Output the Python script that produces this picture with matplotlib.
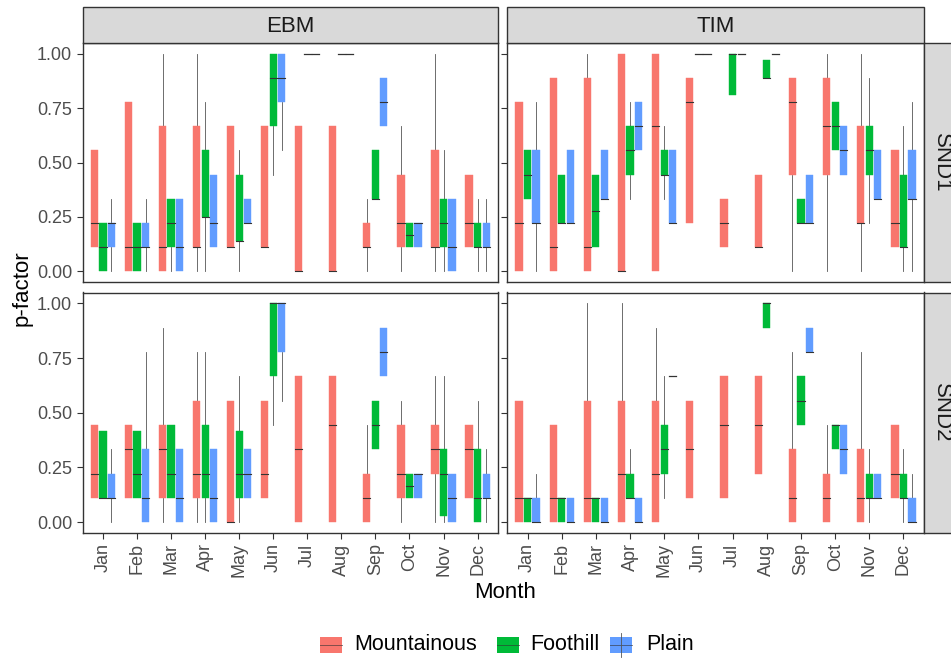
import numpy as np
import matplotlib
matplotlib.use("Agg")
import matplotlib.pyplot as plt
from matplotlib.patches import Rectangle

plt.rcParams['font.family'] = ['Liberation Sans', 'DejaVu Sans']

MONTHS = ["Jan", "Feb", "Mar", "Apr", "May", "Jun", "Jul", "Aug", "Sep", "Oct", "Nov", "Dec"]
GROUPS = ["Mountainous", "Foothill", "Plain"]
COLUMNS = ["EBM", "TIM"]
ROWS = ["SND1", "SND2"]
Y_TICKS = [0.0, 0.25, 0.5, 0.75, 1.0]

# each box: (lower whisker, q1, median, q3, upper whisker); None = no box
EBM_SND1_MOUNT = [(0.111, 0.111, 0.222, 0.556, 0.556), (0, 0, 0.111, 0.778, 0.778), (0, 0, 0.111, 0.667, 1.0),
                  (0, 0.111, 0.111, 0.667, 1.0), (0.111, 0.111, 0.111, 0.667, 0.667), (0.111, 0.111, 0.111, 0.667, 0.667),
                  (0, 0, 0, 0.667, 0.667), (0, 0, 0, 0.667, 0.667), (0, 0.111, 0.111, 0.222, 0.333),
                  (0, 0.111, 0.222, 0.444, 0.667), (0, 0.111, 0.111, 0.556, 1.0), (0.111, 0.111, 0.222, 0.444, 0.444)]
EBM_SND1_FOOT = [(0, 0, 0.111, 0.222, 0.222), (0, 0, 0.111, 0.222, 0.222), (0, 0.111, 0.222, 0.333, 0.333),
                 (0, 0.25, 0.25, 0.556, 0.778), (0, 0.14, 0.14, 0.444, 0.556), (0.444, 0.667, 0.889, 1.0, 1.0),
                 (1, 1, 1, 1, 1), (1, 1, 1, 1, 1), (0.333, 0.333, 0.333, 0.556, 0.556),
                 (0.111, 0.111, 0.167, 0.222, 0.222), (0, 0.111, 0.222, 0.333, 0.556), (0, 0.111, 0.111, 0.222, 0.333)]
EBM_SND1_PLAIN = [(0, 0.111, 0.222, 0.222, 0.333), (0, 0.111, 0.111, 0.222, 0.333), (0, 0, 0.111, 0.333, 0.333),
                  (0.111, 0.111, 0.222, 0.444, 0.444), (0.222, 0.222, 0.222, 0.333, 0.333), (0.556, 0.778, 0.889, 1.0, 1.0),
                  (1, 1, 1, 1, 1), (1, 1, 1, 1, 1), (0.667, 0.667, 0.778, 0.889, 0.889),
                  (0.111, 0.111, 0.222, 0.222, 0.222), (0, 0, 0.111, 0.333, 0.333), (0, 0.111, 0.111, 0.222, 0.333)]

TIM_SND1_MOUNT = [(0, 0, 0.222, 0.778, 0.778), (0, 0, 0.111, 0.889, 0.889), (0, 0, 0.111, 0.889, 1.0),
                  (0, 0, 0, 1.0, 1.0), (0, 0, 0.667, 1.0, 1.0), (0.222, 0.222, 0.778, 0.889, 0.889),
                  (0.111, 0.111, 0.222, 0.333, 0.333), (0.111, 0.111, 0.111, 0.444, 0.444), (0, 0.444, 0.778, 0.889, 0.889),
                  (0, 0.444, 0.667, 0.889, 1.0), (0, 0.222, 0.222, 0.667, 1.0), (0.111, 0.111, 0.222, 0.556, 0.556)]
TIM_SND1_FOOT = [(0.333, 0.333, 0.444, 0.556, 0.556), (0.222, 0.222, 0.222, 0.444, 0.444), (0.111, 0.111, 0.278, 0.444, 0.444),
                 (0.333, 0.444, 0.556, 0.667, 0.778), (0.333, 0.444, 0.444, 0.556, 0.667), (1, 1, 1, 1, 1),
                 (0.81, 0.81, 1.0, 1.0, 1.0), (0.889, 0.889, 0.889, 0.972, 0.972), (0.222, 0.222, 0.222, 0.333, 0.333),
                 (0.556, 0.556, 0.667, 0.778, 0.778), (0.222, 0.444, 0.556, 0.667, 0.889), (0, 0.111, 0.111, 0.444, 0.667)]
TIM_SND1_PLAIN = [(0, 0.222, 0.222, 0.556, 0.778), (0.222, 0.222, 0.222, 0.556, 0.556), (0.333, 0.333, 0.333, 0.556, 0.556),
                  (0.556, 0.556, 0.667, 0.778, 0.778), (0.222, 0.222, 0.222, 0.556, 0.556), (1, 1, 1, 1, 1),
                  (1, 1, 1, 1, 1), (1, 1, 1, 1, 1), (0.222, 0.222, 0.222, 0.444, 0.444),
                  (0.444, 0.444, 0.556, 0.667, 0.667), (0.333, 0.333, 0.333, 0.556, 0.556), (0, 0.333, 0.333, 0.556, 0.778)]

EBM_SND2_MOUNT = [(0.111, 0.111, 0.222, 0.444, 0.444), (0.111, 0.111, 0.333, 0.444, 0.444), (0, 0.111, 0.333, 0.444, 0.889),
                  (0, 0.111, 0.222, 0.556, 0.778), (0, 0, 0, 0.556, 0.556), (0.111, 0.111, 0.222, 0.556, 0.556),
                  (0, 0, 0.333, 0.667, 0.667), (0, 0, 0.444, 0.667, 0.667), (0, 0, 0.111, 0.222, 0.444),
                  (0, 0.111, 0.222, 0.444, 0.556), (0, 0.222, 0.333, 0.444, 0.667), (0.111, 0.111, 0.333, 0.444, 0.444)]
EBM_SND2_FOOT = [(0.111, 0.111, 0.111, 0.417, 0.417), (0.111, 0.111, 0.222, 0.417, 0.417), (0.111, 0.111, 0.222, 0.444, 0.444),
                 (0, 0.111, 0.222, 0.444, 0.778), (0, 0.111, 0.222, 0.417, 0.667), (0.444, 0.667, 1.0, 1.0, 1.0),
                 None, None, (0.333, 0.333, 0.444, 0.556, 0.556),
                 (0.111, 0.111, 0.167, 0.222, 0.222), (0, 0.03, 0.222, 0.333, 0.667), (0, 0, 0.111, 0.333, 0.556)]
EBM_SND2_PLAIN = [(0, 0.111, 0.111, 0.222, 0.333), (0, 0, 0.111, 0.333, 0.778), (0, 0, 0.111, 0.333, 0.333),
                  (0, 0, 0.111, 0.333, 0.333), (0.111, 0.111, 0.222, 0.333, 0.333), (0.556, 0.778, 1.0, 1.0, 1.0),
                  None, None, (0.667, 0.667, 0.778, 0.889, 0.889),
                  (0.111, 0.111, 0.222, 0.222, 0.222), (0, 0, 0.111, 0.222, 0.222), (0, 0.111, 0.111, 0.222, 0.333)]

TIM_SND2_MOUNT = [(0, 0, 0.111, 0.556, 0.556), (0, 0, 0.111, 0.444, 0.444), (0, 0, 0.111, 0.556, 1.0),
                  (0, 0, 0.222, 0.556, 1.0), (0, 0, 0.222, 0.556, 0.889), (0.111, 0.111, 0.333, 0.556, 0.556),
                  (0.111, 0.111, 0.444, 0.667, 0.667), (0.222, 0.222, 0.444, 0.667, 0.667), (0, 0, 0.111, 0.333, 0.778),
                  (0, 0, 0.111, 0.222, 0.444), (0, 0, 0.111, 0.333, 0.778), (0.111, 0.111, 0.222, 0.444, 0.444)]
TIM_SND2_FOOT = [(0, 0, 0.111, 0.111, 0.111), (0, 0, 0.111, 0.111, 0.111), (0, 0, 0.111, 0.111, 0.111),
                 (0.111, 0.111, 0.111, 0.222, 0.333), (0.111, 0.222, 0.333, 0.444, 0.667), None,
                 None, (0.889, 0.889, 1.0, 1.0, 1.0), (0.444, 0.444, 0.556, 0.667, 0.667),
                 (0.333, 0.333, 0.444, 0.444, 0.444), (0, 0.111, 0.111, 0.222, 0.333), (0, 0.111, 0.111, 0.222, 0.333)]
TIM_SND2_PLAIN = [(0, 0, 0, 0.111, 0.222), (0, 0, 0, 0.111, 0.111), (0, 0, 0, 0.111, 0.111),
                  (0, 0, 0, 0.111, 0.111), (0.667, 0.667, 0.667, 0.667, 0.667), None,
                  None, None, (0.778, 0.778, 0.778, 0.889, 0.889),
                  (0.222, 0.222, 0.333, 0.444, 0.444), (0.111, 0.111, 0.111, 0.222, 0.222), (0, 0, 0, 0.111, 0.222)]

PANELS = {
    ("SND1", "EBM"): [EBM_SND1_MOUNT, EBM_SND1_FOOT, EBM_SND1_PLAIN],
    ("SND1", "TIM"): [TIM_SND1_MOUNT, TIM_SND1_FOOT, TIM_SND1_PLAIN],
    ("SND2", "EBM"): [EBM_SND2_MOUNT, EBM_SND2_FOOT, EBM_SND2_PLAIN],
    ("SND2", "TIM"): [TIM_SND2_MOUNT, TIM_SND2_FOOT, TIM_SND2_PLAIN],
}

COLORS = ["#F8766D", "#00BA38", "#619CFF"]
DARK = "#333333"
TXT = "#4D4D4D"

W, H = 951, 658
fig = plt.figure(figsize=(W / 100, H / 100), dpi=100)

col_x = [(82.5, 498.0), (507.0, 924.0)]
row_y = [(43.0, 282.0), (292.5, 533.0)]
strip_top = (7.0, 43.0)
strip_right = (924.0, 960.0)

def fr(x0, x1, y0, y1):
    return [x0 / W, 1 - y1 / H, (x1 - x0) / W, (y1 - y0) / H]

OFFS = [-0.25, 0.0, 0.25]
BW = 0.21

for ri, rname in enumerate(ROWS):
    for ci, cname in enumerate(COLUMNS):
        x0, x1 = col_x[ci]
        y0, y1 = row_y[ri]
        ax = fig.add_axes(fr(x0, x1, y0, y1))
        ax.set_xlim(0.4, 12.6)
        ax.set_ylim(-0.05, 1.05)
        for gi, series in enumerate(PANELS[(rname, cname)]):
            for mi, box in enumerate(series):
                if box is None:
                    continue
                lo, q1, med, q3, hi = box
                xc = mi + 1 + OFFS[gi]
                if hi > q3:
                    ax.plot([xc, xc], [q3, hi], color="#555555", lw=0.6, zorder=1)
                if lo < q1:
                    ax.plot([xc, xc], [lo, q1], color="#555555", lw=0.6, zorder=1)
                if q3 - q1 > 1e-9:
                    ax.add_patch(Rectangle((xc - BW / 2, q1), BW, q3 - q1, facecolor=COLORS[gi],
                                           edgecolor=COLORS[gi], lw=0.3, zorder=2))
                    ax.plot([xc - BW / 2, xc + BW / 2], [med, med], color=DARK, lw=0.8, zorder=3)
                else:
                    ax.plot([xc - BW / 2, xc + BW / 2], [med, med], color=DARK, lw=0.9, zorder=3)
        for s in ax.spines.values():
            s.set_color(DARK)
            s.set_linewidth(1.0)
        ax.set_xticks(range(1, 13))
        ax.set_yticks(Y_TICKS)
        ax.tick_params(axis="both", colors=DARK, length=4, width=0.8, labelcolor=TXT, labelsize=13)
        if ci == 0:
            ax.set_yticklabels([f"{v:.2f}" for v in Y_TICKS])
        else:
            ax.set_yticklabels([])
        if ri == 1:
            ax.set_xticklabels(MONTHS, rotation=90)
        else:
            ax.set_xticklabels([])
            ax.tick_params(axis="x", length=0)

ov2 = fig.add_axes([0, 0, 1, 1], zorder=5)
ov2.set_xlim(0, W)
ov2.set_ylim(H, 0)
ov2.axis("off")
ov2.patch.set_alpha(0)

for ci, cname in enumerate(COLUMNS):
    x0, x1 = col_x[ci]
    ov2.add_patch(Rectangle((x0, strip_top[0]), x1 - x0, strip_top[1] - strip_top[0],
                            facecolor="#D9D9D9", edgecolor=DARK, lw=1.0, clip_on=False))
    ov2.text((x0 + x1) / 2, (strip_top[0] + strip_top[1]) / 2 + 1, cname, ha="center", va="center",
             fontsize=16, color="#1A1A1A")
for ri, rname in enumerate(ROWS):
    y0, y1 = row_y[ri]
    ov2.add_patch(Rectangle((strip_right[0], y0), strip_right[1] - strip_right[0], y1 - y0,
                            facecolor="#D9D9D9", edgecolor=DARK, lw=1.0, clip_on=False))
    ov2.text(941, (y0 + y1) / 2, rname, ha="center", va="center", rotation=-90,
             fontsize=16, color="#1A1A1A")

ov2.text(22, 288, "p-factor", rotation=90, ha="center", va="center", fontsize=16, color="black")
ov2.text(505, 592, "Month", ha="center", va="center", fontsize=16, color="black")

# legend
keys = [(320, 354), (497, 530), (610, 646)]
for gi, (kx, tx) in enumerate(keys):
    ov2.add_patch(Rectangle((kx, 637), 22, 16, facecolor=COLORS[gi], edgecolor="none"))
    ov2.plot([kx, kx + 22], [645, 645], color=DARK, lw=0.7, alpha=0.6)
    if gi == 2:
        ov2.plot([kx + 11, kx + 11], [633, 657], color="#555555", lw=0.6)
    ov2.text(tx, 645, GROUPS[gi], ha="left", va="center", fontsize=15.5, color="black")

fig.savefig("out.png", dpi=100)
